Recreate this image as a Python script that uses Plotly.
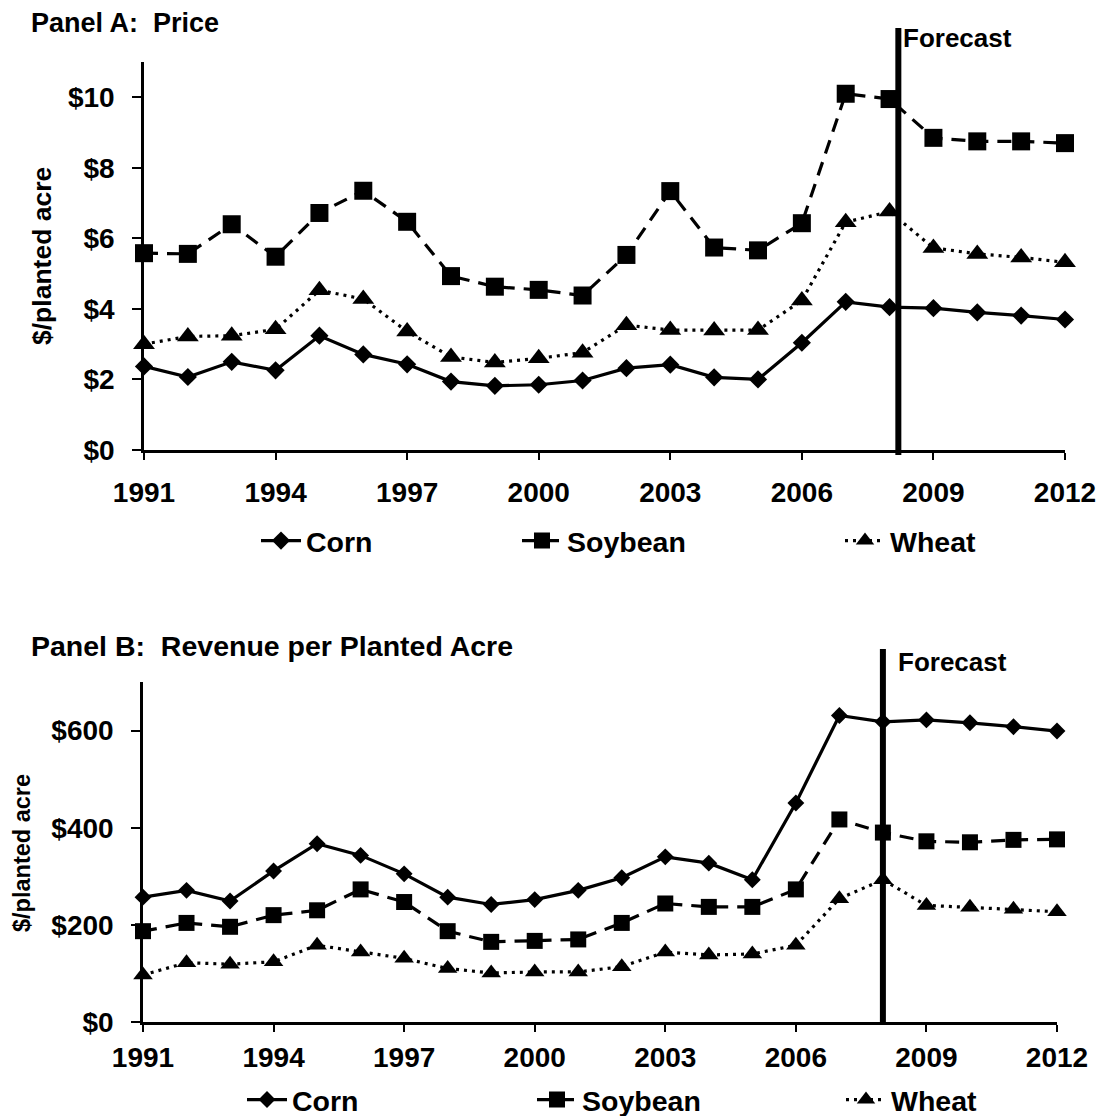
import plotly.graph_objects as go

# ---------------- data ----------------
years = list(range(1991, 2013))
x_tick_years = [1991, 1994, 1997, 2000, 2003, 2006, 2009, 2012]

price_corn = [2.37, 2.07, 2.50, 2.26, 3.24, 2.71, 2.43, 1.94, 1.82, 1.85, 1.97,
              2.32, 2.42, 2.06, 2.00, 3.04, 4.20, 4.05, 4.02, 3.90, 3.81, 3.70]
price_soy = [5.58, 5.56, 6.40, 5.48, 6.72, 7.35, 6.47, 4.93, 4.63, 4.54, 4.38,
             5.53, 7.34, 5.74, 5.66, 6.43, 10.10, 9.95, 8.85, 8.75, 8.75, 8.70]
price_wheat = [3.00, 3.22, 3.24, 3.42, 4.53, 4.28, 3.36, 2.64, 2.48, 2.60, 2.76,
               3.54, 3.40, 3.39, 3.40, 4.24, 6.46, 6.76, 5.73, 5.56, 5.46, 5.32]

rev_corn = [257, 271, 249, 311, 367, 343, 305, 257, 242, 252, 271,
            297, 340, 327, 293, 451, 631, 618, 622, 616, 608, 599]
rev_soy = [187, 204, 196, 220, 230, 273, 247, 187, 165, 167, 170,
           204, 244, 237, 237, 273, 417, 390, 372, 370, 375, 376]
rev_wheat = [97, 122, 119, 124, 158, 144, 131, 110, 101, 103, 103,
             114, 144, 138, 140, 158, 254, 293, 240, 236, 232, 227]

price_ticks = [0, 2, 4, 6, 8, 10]
price_tick_text = ["$0", "$2", "$4", "$6", "$8", "$10"]
rev_ticks = [0, 200, 400, 600]
rev_tick_text = ["$0", "$200", "$400", "$600"]

forecast_year_a = 2008.2
forecast_year_b = 2008.0

series_names = ["Corn", "Soybean", "Wheat"]

# ---------------- layout helpers ----------------
W, H = 1104, 1116
OFF = 8  # page body margin in front of the figure
FONT = "Liberation Sans, Arial, sans-serif"


def fx(p):
    return (p - OFF) / W


def fy(p):
    return 1 - (p - OFF) / H


def bold(size):
    return dict(family=FONT, size=size, color="black", weight="bold")


styles = {
    "Corn": dict(dash="solid", symbol="diamond"),
    "Soybean": dict(dash="14px,9px", symbol="square"),
    "Wheat": dict(dash="3px,5px", symbol="triangle-up"),
}
msize_a = {"Corn": 14, "Soybean": 18, "Wheat": 19}
msize_b = {"Corn": 13, "Soybean": 16, "Wheat": 17}

fig = go.Figure()

panel_a = [price_corn, price_soy, price_wheat]
panel_b = [rev_corn, rev_soy, rev_wheat]

for i, (name, vals) in enumerate(zip(series_names, panel_a)):
    st = styles[name]
    fig.add_trace(go.Scatter(
        x=years, y=vals, name=name, mode="lines+markers",
        line=dict(color="black", width=3.2, dash=st["dash"]),
        marker=dict(color="black", size=msize_a[name], symbol=st["symbol"]),
        xaxis="x", yaxis="y", legend="legend" if i == 0 else f"legend{i+1}",
        cliponaxis=False,
    ))

for i, (name, vals) in enumerate(zip(series_names, panel_b)):
    st = styles[name]
    fig.add_trace(go.Scatter(
        x=years, y=vals, name=name, mode="lines+markers",
        line=dict(color="black", width=3.2, dash=st["dash"]),
        marker=dict(color="black", size=msize_b[name], symbol=st["symbol"]),
        xaxis="x2", yaxis="y2", legend=f"legend{i+4}",
        cliponaxis=False,
    ))

axis_common = dict(
    showline=True, linecolor="black", linewidth=2.5, showgrid=False,
    zeroline=False, ticks="outside", tickcolor="black", tickwidth=1.5,
    tickfont=bold(28), fixedrange=True, automargin=False,
)

layout = dict(
    width=W, height=H, autosize=False,
    margin=dict(l=0, r=0, t=0, b=0, pad=0, autoexpand=False),
    paper_bgcolor="white", plot_bgcolor="white",
    font=dict(family=FONT, color="black", weight="bold"),
    showlegend=True,
    xaxis=dict(axis_common, domain=[fx(144), fx(1065)], range=[1991, 2012],
               tickmode="array", tickvals=x_tick_years, ticklen=7, anchor="y",
               ticklabelstandoff=9),
    yaxis=dict(axis_common, domain=[fy(450), fy(62)], range=[0, 11],
               tickmode="array", tickvals=price_ticks,
               ticktext=price_tick_text, ticklen=9, anchor="x",
               ticklabelstandoff=12),
    xaxis2=dict(axis_common, domain=[fx(143), fx(1057)], range=[1991, 2012],
                tickmode="array", tickvals=x_tick_years, ticklen=7,
                anchor="y2", ticklabelstandoff=2),
    yaxis2=dict(axis_common, domain=[fy(1022), fy(682)], range=[0, 700],
                tickmode="array", tickvals=rev_ticks, ticktext=rev_tick_text,
                ticklen=9, anchor="x2", ticklabelstandoff=12),
)

# legends: one per entry so each can sit where the reference puts it
legend_text_x_a = [306, 567, 890]
legend_text_x_b = [292, 582, 891]
legend_y_a = 541
legend_y_b = 1100
for i, tx in enumerate(legend_text_x_a + legend_text_x_b):
    key = "legend" if i == 0 else f"legend{i+1}"
    cy = legend_y_a if i < 3 else legend_y_b
    layout[key] = dict(
        x=fx(tx - 50), y=fy(cy), xanchor="left", yanchor="middle",
        orientation="h", itemwidth=40, bgcolor="rgba(0,0,0,0)",
        borderwidth=0, font=bold(28.5),
    )

fig.update_layout(**layout)

# forecast lines
fig.add_shape(type="line", xref="x", yref="paper", x0=forecast_year_a,
              x1=forecast_year_a, y0=fy(455), y1=fy(28),
              line=dict(color="black", width=6))
fig.add_shape(type="line", xref="x2", yref="paper", x0=forecast_year_b,
              x1=forecast_year_b, y0=fy(1024), y1=fy(649),
              line=dict(color="black", width=6))

annotations = [
    dict(text="Panel A:\u00a0 Price", x=fx(29), y=fy(23), xanchor="left",
         yanchor="middle", font=bold(27)),
    dict(text="Panel B:\u00a0 Revenue per Planted Acre", x=fx(29), y=fy(646),
         xanchor="left", yanchor="middle", font=bold(28.5)),
    dict(text="Forecast", x=fx(957), y=fy(38), xanchor="center",
         yanchor="middle", font=bold(26)),
    dict(text="Forecast", x=fx(952), y=fy(662), xanchor="center",
         yanchor="middle", font=bold(26)),
    dict(text="$/planted acre", x=fx(42), y=fy(256), xanchor="center",
         yanchor="middle", textangle=-90, font=bold(26.5)),
    dict(text="$/planted acre", x=fx(22), y=fy(853), xanchor="center",
         yanchor="middle", textangle=-90, font=bold(23.5)),
]
for a in annotations:
    a.update(xref="paper", yref="paper", showarrow=False)
fig.update_layout(annotations=annotations)

fig.write_html("out.html")
